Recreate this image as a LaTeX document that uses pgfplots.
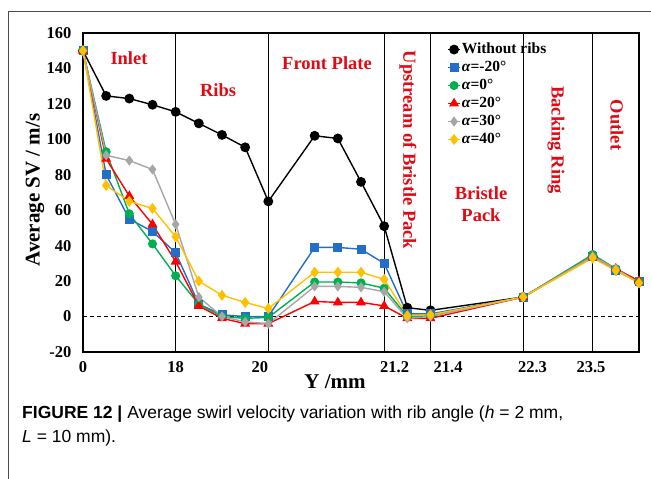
\documentclass[border=0pt]{standalone}
\usepackage{fontspec}
\setmainfont{Liberation Serif}
\newfontfamily\capfont{Liberation Sans}
\usepackage{pgfplots}
\usepackage{pgfplotstable}
\pgfplotsset{compat=1.18}

\definecolor{cblue}{RGB}{35,110,200}
\definecolor{cgreen}{RGB}{0,176,80}
\definecolor{cred}{RGB}{255,0,0}
\definecolor{cgray}{RGB}{166,166,166}
\definecolor{cyellow}{RGB}{255,192,0}
\definecolor{lred}{RGB}{225,10,20}

% x = position index along the seal (labels below), SV in m/s
\pgfplotstableread{
x  black  blue  green  red   gray  yellow
0  150    150   150    150   150   150
1  124.5  80    93     89    91    74
2  123    55    58     68    88    65
3  119.5  48    41     52    83    61
4  115.5  36    23     31    52    45
5  109    7     7      6     11    20
6  102.5  1     0      -1    0     12
7  95.5   0     -1     -4    -3    8
8  65     0     -0.5   -4    -4    4.5
10 102    39    19.5   8.5   17    25
11 100.5  39    19.5   8     17    25
12 76     38    19     8     16.5  25
13 51     30    16     6     14    21
14 5      1.5   0      -1    -1    0.5
15 3.5    1.5   0.5    -1    0     1
19 11     11    11     11    11    11
22 34     34    35     34    34    33
23 26     26    27     27    27    26
24 19.5   19.5  20     20    19    19
}\svdata

\begin{document}
\begin{tikzpicture}
\path[use as bounding box] (0,0) rectangle (651pt,-479pt);
\draw[black!70, line width=1pt] (8pt,-479pt) -- (8pt,-11pt) -- (651pt,-11pt);

\begin{axis}[
    at={(83pt,-352pt)}, anchor=south west,
    width=556pt, height=319pt, scale only axis,
    xmin=0, xmax=24, ymin=-20, ymax=160,
    xtick={0,4,7.63,13.45,15.76,19.4,21.93},
    xticklabels={0,18,20,21.2,21.4,22.3,23.5},
    ytick={-20,0,...,160},
    yticklabels={-20,0,20,40,60,80,100,120,140,160},
    major tick length=0pt,
    tick label style={font=\fontsize{16.5}{16.5}\selectfont\bfseries},
    yticklabel style={xshift=-8pt},
    xticklabel style={yshift=-6pt},
    axis line style={line width=1.3pt},
    clip=false,
    legend style={at={(0.655,0.977)}, anchor=north west, draw=none, fill=none,
        font=\fontsize{15.5}{15.5}\selectfont\bfseries, row sep=0pt, inner sep=0pt,
        nodes={inner sep=1pt, text height=12pt, text depth=4pt, anchor=west}},
    legend cell align=left,
    legend image code/.code={\draw[mark repeat=2, mark phase=2] plot coordinates {(0pt,0pt) (6pt,0pt) (12pt,0pt)};},
    every axis plot/.append style={line width=1.4pt},
]
\foreach \v in {4,8,13,15,19,22} {
    \edef\tmp{\noexpand\draw[line width=1.2pt] (axis cs:\v,-20) -- (axis cs:\v,160);}
    \tmp
}
\draw[line width=1.2pt, dash pattern=on 4pt off 3pt] (axis cs:0,0) -- (axis cs:24,0);

\addplot[black, mark=*, mark size=4.2pt, mark options={solid}] table[x=x, y=black] {\svdata};
\addplot[cblue, mark=square*, mark size=3.8pt, mark options={solid}] table[x=x, y=blue] {\svdata};
\addplot[cgreen, mark=*, mark size=3.8pt, mark options={solid}] table[x=x, y=green] {\svdata};
\addplot[cred, mark=triangle*, mark size=4.4pt, mark options={solid}] table[x=x, y=red] {\svdata};
\addplot[cgray, mark=diamond*, mark size=4pt, mark options={solid}] table[x=x, y=gray] {\svdata};
\addplot[cyellow, mark=diamond*, mark size=4.4pt, mark options={solid}] table[x=x, y=yellow] {\svdata};
\legend{Without ribs, \textit{α}=-20°, \textit{α}=0°, \textit{α}=20°, \textit{α}=30°, \textit{α}=40°}
\end{axis}

\begin{scope}[every node/.style={text=lred, font=\fontsize{18.5}{22}\selectfont\bfseries}]
\node at (129pt,-58pt) {Inlet};
\node at (218pt,-90pt) {Ribs};
\node at (327pt,-63pt) {Front Plate};
\node[rotate=-90] at (408pt,-150pt) {Upstream of Bristle Pack};
\node[align=center] at (481pt,-204pt) {Bristle\\Pack};
\node[rotate=-90] at (556pt,-140pt) {Backing Ring};
\node[rotate=-90] at (617pt,-125pt) {Outlet};
\end{scope}

\node[rotate=90, font=\fontsize{21}{21}\selectfont\bfseries] at (35pt,-190pt) {Average SV / m/s};
\node[font=\fontsize{21}{21}\selectfont\bfseries] at (335pt,-382pt) {Y /mm};

\node[anchor=base west, inner sep=0pt, font=\capfont\fontsize{17.5}{17.5}\selectfont] at (22pt,-418pt)
    {\textbf{FIGURE 12 |} Average swirl velocity variation with rib angle (\textit{h} = 2 mm,};
\node[anchor=base west, inner sep=0pt, font=\capfont\fontsize{17.5}{17.5}\selectfont] at (22pt,-442pt)
    {\textit{L} = 10 mm).};
\end{tikzpicture}
\end{document}
